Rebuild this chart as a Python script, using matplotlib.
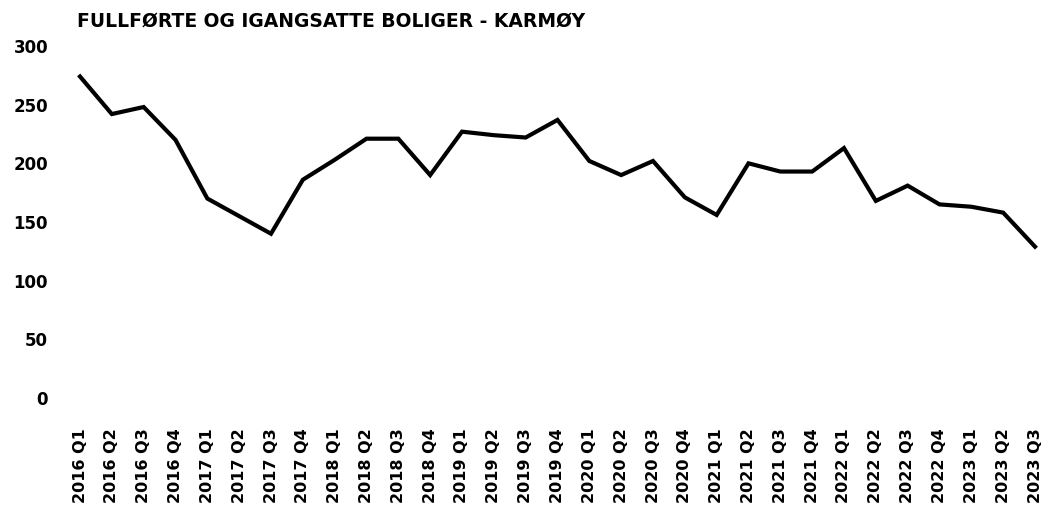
import matplotlib
matplotlib.use("Agg")
import matplotlib.pyplot as plt

plt.rcParams['font.family'] = ['DejaVu Sans']
plt.rcParams['font.weight'] = 'bold'

# Quarterly data
quarters = [f"{y} Q{q}" for y in range(2016, 2024) for q in range(1, 5)][:31]
values = [274, 242, 248, 220, 170, 155, 140, 186, 203, 221, 221, 190,
          227, 224, 222, 237, 202, 190, 202, 171, 156, 200, 193, 193,
          213, 168, 181, 165, 163, 158, 129]
y_ticks = [0, 50, 100, 150, 200, 250, 300]

fig = plt.figure(figsize=(10.5, 5.07), dpi=100)
ax = fig.add_axes([80 / 1050, 1 - 398 / 507, (1035 - 80) / 1050, (398 - 46) / 507])

x = range(len(quarters))
ax.plot(x, values, color='black', linewidth=3, solid_joinstyle='miter', clip_on=False)

ax.set_xlim(0, len(quarters) - 1)
ax.set_ylim(0, 300)
ax.set_yticks(y_ticks)
ax.set_xticks(list(x))
ax.set_xticklabels(quarters, rotation=90, fontsize=11.5, fontweight='bold')
ax.tick_params(axis='y', length=0, pad=23, labelsize=12)
ax.tick_params(axis='x', length=0, pad=22)
for s in ax.spines.values():
    s.set_visible(False)

fig.text(77 / 1050, 1 - 21 / 507, "FULLFØRTE OG IGANGSATTE BOLIGER - KARMØY",
         fontsize=13.5, fontweight='bold', va='center', ha='left')

fig.savefig("out.png", dpi=100)
